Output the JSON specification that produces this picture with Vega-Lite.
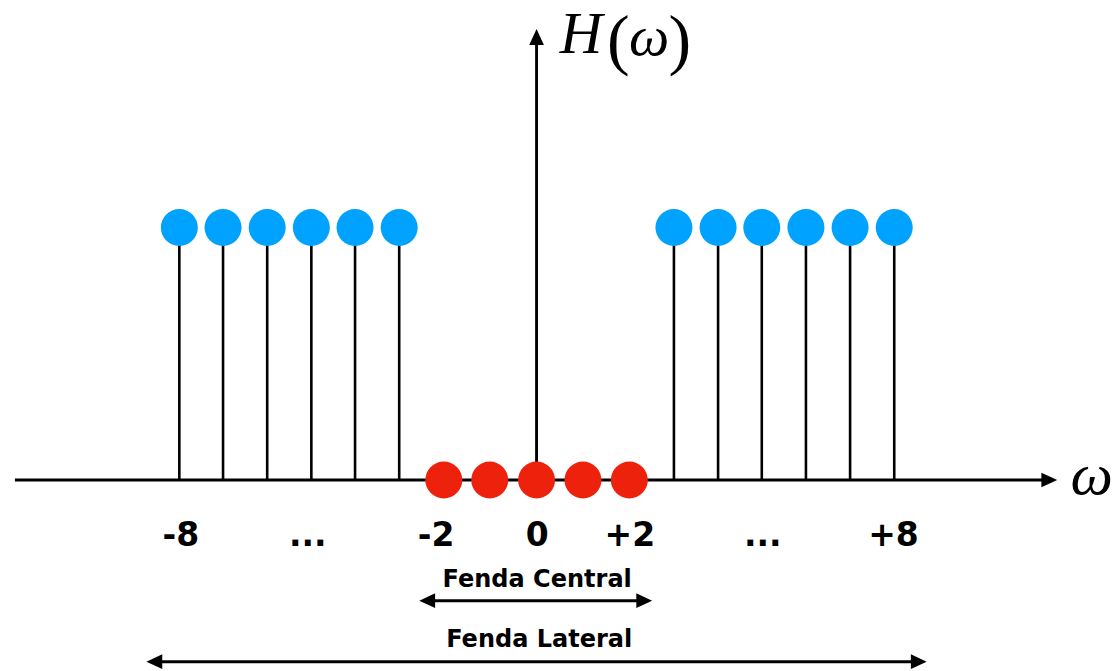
{
  "$schema": "https://vega.github.io/schema/vega-lite/v6.json",
  "width": 1120,
  "height": 671,
  "padding": 0,
  "autosize": {"type": "fit", "contains": "padding"},
  "background": "white",
  "config": {"view": {"stroke": null}},
  "datasets": {
    "samples": [
      {"w": -8.01, "k": -8, "H": 1, "zone": "Fenda Lateral"},
      {"w": -7.03, "k": -7, "H": 1, "zone": "Fenda Lateral"},
      {"w": -6.04, "k": -6, "H": 1, "zone": "Fenda Lateral"},
      {"w": -5.05, "k": -5, "H": 1, "zone": "Fenda Lateral"},
      {"w": -4.07, "k": -4, "H": 1, "zone": "Fenda Lateral"},
      {"w": -3.08, "k": -3, "H": 1, "zone": "Fenda Lateral"},
      {"w": -2.08, "k": -2, "H": 0, "zone": "Fenda Central"},
      {"w": -1.05, "k": -1, "H": 0, "zone": "Fenda Central"},
      {"w": 0, "k": 0, "H": 0, "zone": "Fenda Central"},
      {"w": 1.04, "k": 1, "H": 0, "zone": "Fenda Central"},
      {"w": 2.08, "k": 2, "H": 0, "zone": "Fenda Central"},
      {"w": 3.08, "k": 3, "H": 1, "zone": "Fenda Lateral"},
      {"w": 4.07, "k": 4, "H": 1, "zone": "Fenda Lateral"},
      {"w": 5.05, "k": 5, "H": 1, "zone": "Fenda Lateral"},
      {"w": 6.04, "k": 6, "H": 1, "zone": "Fenda Lateral"},
      {"w": 7.03, "k": 7, "H": 1, "zone": "Fenda Lateral"},
      {"w": 8.02, "k": 8, "H": 1, "zone": "Fenda Lateral"}
    ],
    "ticks": [
      {"pos": -7.975, "level": -0.2614, "label": "-8"},
      {"pos": -5.13, "level": -0.2614, "label": "..."},
      {"pos": -2.252, "level": -0.2614, "label": "-2"},
      {"pos": 0.014, "level": -0.2614, "label": "0"},
      {"pos": 2.092, "level": -0.2614, "label": "+2"},
      {"pos": 5.07, "level": -0.2614, "label": "..."},
      {"pos": 8.003, "level": -0.2614, "label": "+8"}
    ],
    "guides": [
      {"seg": "eixo ω", "xa": -11.697, "xb": 11.5, "ya": 0, "yb": 0},
      {"seg": "eixo H", "xa": 0, "xb": 0, "ya": 0, "yb": 1.75},
      {"seg": "Fenda Central", "xa": -2.452, "xb": 2.414, "ya": -0.478, "yb": -0.478},
      {"seg": "Fenda Lateral", "xa": -8.57, "xb": 8.57, "ya": -0.7196, "yb": -0.7196}
    ],
    "heads": [
      {"seg": "eixo ω", "x": 11.497, "y": 0, "dir": "right"},
      {"seg": "eixo H", "x": 0, "y": 1.7545, "dir": "up"},
      {"seg": "Fenda Central", "x": -2.452, "y": -0.478, "dir": "left"},
      {"seg": "Fenda Central", "x": 2.414, "y": -0.478, "dir": "right"},
      {"seg": "Fenda Lateral", "x": -8.57, "y": -0.7196, "dir": "left"},
      {"seg": "Fenda Lateral", "x": 8.57, "y": -0.7196, "dir": "right"}
    ],
    "spanLabels": [
      {"name": "Fenda Central", "x": 0.014, "y": -0.4238},
      {"name": "Fenda Lateral", "x": 0.059, "y": -0.6614}
    ],
    "math": [
      {"part": "H", "x": 1.0, "y": 1.691, "kind": "italic", "fs": 59},
      {"part": "(", "x": 1.836, "y": 1.655, "kind": "upright", "fs": 68},
      {"part": "ω", "x": 2.525, "y": 1.683, "kind": "italic", "fs": 57},
      {"part": ")", "x": 3.214, "y": 1.655, "kind": "upright", "fs": 68},
      {"part": "ω", "x": 12.448, "y": -0.0554, "kind": "italic", "fs": 60}
    ]
  },
  "layer": [
    {
      "data": {"name": "guides"},
      "mark": {"type": "rule", "color": "black", "strokeWidth": 2.9},
      "encoding": {
        "x": {"field": "xa", "type": "quantitative", "scale": {"domain": [-11.919, 12.97], "nice": false, "zero": false}, "axis": null},
        "x2": {"field": "xb"},
        "y": {"field": "ya", "type": "quantitative", "scale": {"domain": [-0.7564, 1.901], "nice": false, "zero": false}, "axis": null},
        "y2": {"field": "yb"}
      }
    },
    {
      "data": {"name": "heads"},
      "mark": {"type": "point", "filled": true, "opacity": 1, "color": "black", "size": 250},
      "encoding": {
        "x": {"field": "x", "type": "quantitative", "scale": {"domain": [-11.919, 12.97], "nice": false, "zero": false}, "axis": null},
        "y": {"field": "y", "type": "quantitative", "scale": {"domain": [-0.7564, 1.901], "nice": false, "zero": false}, "axis": null},
        "shape": {"field": "dir", "type": "nominal", "scale": {"domain": ["right", "up", "left"], "range": ["M1,0L-1,-0.93L-1,0.93Z", "M0,-1L-0.93,1L0.93,1Z", "M-1,0L1,-0.93L1,0.93Z"]}, "legend": null}
      }
    },
    {
      "data": {"name": "samples"},
      "transform": [{"filter": "datum.H > 0"}],
      "mark": {"type": "bar", "color": "black", "width": 2.6},
      "encoding": {
        "x": {"field": "w", "type": "quantitative", "scale": {"domain": [-11.919, 12.97], "nice": false, "zero": false}, "axis": null},
        "y": {"field": "H", "type": "quantitative", "scale": {"domain": [-0.7564, 1.901], "nice": false, "zero": false}, "axis": null}
      }
    },
    {
      "data": {"name": "samples"},
      "mark": {"type": "point", "shape": "circle", "filled": true, "opacity": 1, "size": 1369},
      "encoding": {
        "x": {"field": "w", "type": "quantitative", "scale": {"domain": [-11.919, 12.97], "nice": false, "zero": false}, "axis": null},
        "y": {"field": "H", "type": "quantitative", "scale": {"domain": [-0.7564, 1.901], "nice": false, "zero": false}, "axis": null},
        "color": {"field": "zone", "type": "nominal", "scale": {"domain": ["Fenda Lateral", "Fenda Central"], "range": ["#00A2FF", "#EE220C"]}, "legend": null}
      }
    },
    {
      "data": {"name": "ticks"},
      "mark": {"type": "text", "font": "DejaVu Sans", "fontWeight": "bold", "fontSize": 33, "align": "center", "baseline": "alphabetic", "color": "black"},
      "encoding": {
        "x": {"field": "pos", "type": "quantitative", "scale": {"domain": [-11.919, 12.97], "nice": false, "zero": false}, "axis": null},
        "y": {"field": "level", "type": "quantitative", "scale": {"domain": [-0.7564, 1.901], "nice": false, "zero": false}, "axis": null},
        "text": {"field": "label", "type": "nominal"}
      }
    },
    {
      "data": {"name": "spanLabels"},
      "mark": {"type": "text", "font": "DejaVu Sans", "fontWeight": "bold", "fontSize": 24, "align": "center", "baseline": "alphabetic", "color": "black"},
      "encoding": {
        "x": {"field": "x", "type": "quantitative", "scale": {"domain": [-11.919, 12.97], "nice": false, "zero": false}, "axis": null},
        "y": {"field": "y", "type": "quantitative", "scale": {"domain": [-0.7564, 1.901], "nice": false, "zero": false}, "axis": null},
        "text": {"field": "name", "type": "nominal"}
      }
    },
    {
      "data": {"name": "math"},
      "transform": [{"filter": "datum.kind == 'italic'"}],
      "mark": {"type": "text", "font": "Liberation Serif", "fontStyle": "italic", "align": "center", "baseline": "alphabetic", "color": "black"},
      "encoding": {
        "x": {"field": "x", "type": "quantitative", "scale": {"domain": [-11.919, 12.97], "nice": false, "zero": false}, "axis": null},
        "y": {"field": "y", "type": "quantitative", "scale": {"domain": [-0.7564, 1.901], "nice": false, "zero": false}, "axis": null},
        "text": {"field": "part", "type": "nominal"},
        "size": {"field": "fs", "type": "quantitative", "scale": null, "legend": null}
      }
    },
    {
      "data": {"name": "math"},
      "transform": [{"filter": "datum.kind == 'upright'"}],
      "mark": {"type": "text", "font": "Liberation Serif", "align": "center", "baseline": "alphabetic", "color": "black"},
      "encoding": {
        "x": {"field": "x", "type": "quantitative", "scale": {"domain": [-11.919, 12.97], "nice": false, "zero": false}, "axis": null},
        "y": {"field": "y", "type": "quantitative", "scale": {"domain": [-0.7564, 1.901], "nice": false, "zero": false}, "axis": null},
        "text": {"field": "part", "type": "nominal"},
        "size": {"field": "fs", "type": "quantitative", "scale": null, "legend": null}
      }
    }
  ]
}
